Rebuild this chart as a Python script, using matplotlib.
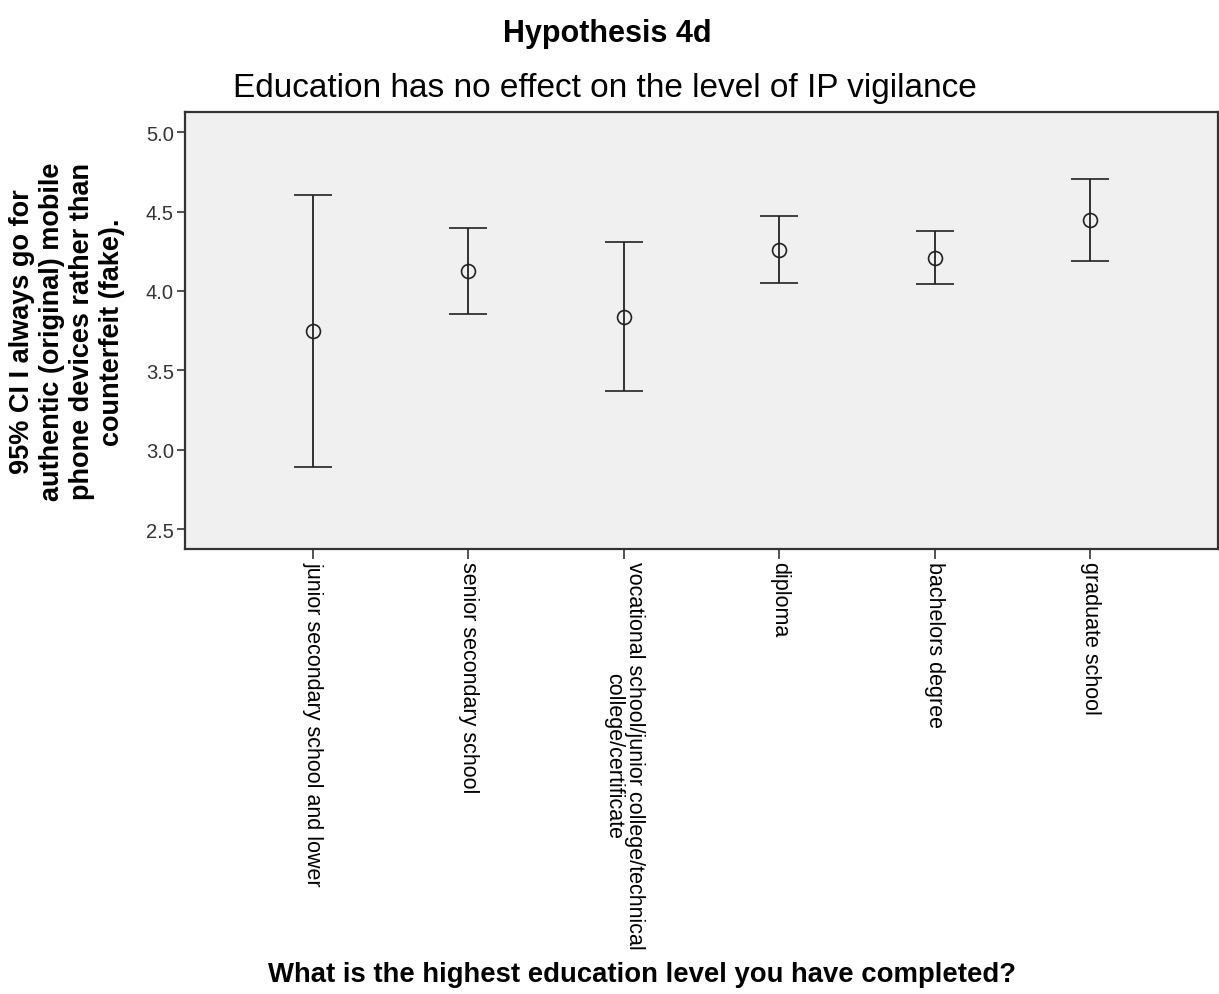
import matplotlib
matplotlib.use("Agg")
import matplotlib.pyplot as plt
import numpy as np

plt.rcParams['font.family'] = ['Liberation Sans', 'DejaVu Sans']

# dados (media e IC 95%)
categorias = ["junior secondary school and lower",
              "senior secondary school",
              "vocational school/junior college/technical\ncollege/certificate",
              "diploma",
              "bachelors degree",
              "graduate school"]
media = [3.750, 4.124, 3.838, 4.260, 4.210, 4.447]
ic_inferior = [2.893, 3.855, 3.370, 4.050, 4.044, 4.189]
ic_superior = [4.605, 4.395, 4.307, 4.474, 4.376, 4.704]
y_ticks = [2.5, 3.0, 3.5, 4.0, 4.5, 5.0]

fig = plt.figure(figsize=(12.19, 9.95), dpi=100)
ax = fig.add_axes([185/1219, 1-550/995, (1218-185)/1219, (550-113)/995])
ax.set_facecolor('#F0F0F0')

x = np.arange(len(categorias))
media = np.array(media)
erro = [media - np.array(ic_inferior), np.array(ic_superior) - media]
ax.errorbar(x, media, yerr=erro, fmt='o', color='#222222', ecolor='#222222',
            elinewidth=1.3, capsize=14, capthick=1.5,
            markersize=10, markerfacecolor='none', markeredgewidth=1.2)

ax.set_xlim(-0.823, 5.823)
ax.set_ylim(2.374, 5.128)
ax.set_yticks(y_ticks)
ax.set_yticklabels([f"{v:.1f}" for v in y_ticks], fontsize=14.5, color='#333333')
ax.set_xticks(x)
ax.set_xticklabels(categorias, rotation=270, fontsize=15.5, ha='center', va='top',
                   linespacing=1.0)
ax.tick_params(axis='y', length=6, width=1.2, color='#333333', pad=2)
ax.tick_params(axis='x', length=7, width=1.2, color='#333333', pad=2)
for s in ax.spines.values():
    s.set_linewidth(1.6)
    s.set_color('#333333')

fig.text(607/1219, 1-34/995, "Hypothesis 4d", ha='center', va='center',
         fontsize=22, fontweight='bold')
fig.text(605/1219, 1-88/995, "Education has no effect on the level of IP vigilance",
         ha='center', va='center', fontsize=24)
fig.text(642/1219, 1-975/995, "What is the highest education level you have completed?",
         ha='center', va='center', fontsize=19.8, fontweight='bold')
fig.text(67/1219, 1-332/995,
         "95% CI I always go for\nauthentic (original) mobile\nphone devices rather than\ncounterfeit (fake).",
         ha='center', va='center', rotation=90, fontsize=19.5, fontweight='bold',
         linespacing=1.2, multialignment='center')

fig.savefig("out.png", dpi=100)
